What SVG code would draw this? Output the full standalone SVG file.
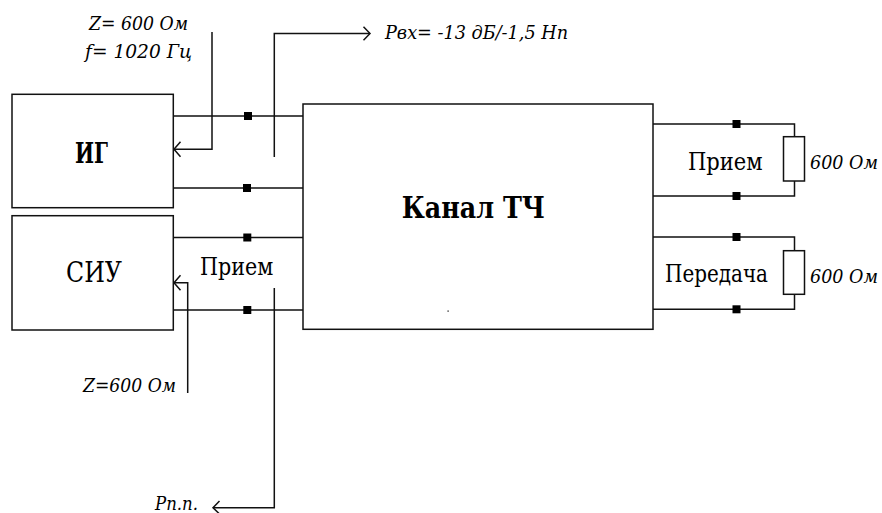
<svg xmlns="http://www.w3.org/2000/svg" width="882" height="513" viewBox="0 0 882 513">
<style>
.box{fill:#fff;stroke:#111;stroke-width:1.5}
.ln{fill:none;stroke:#111;stroke-width:1.5}
.sq{fill:#000}
</style>
<rect width="882" height="513" fill="#fff"/>
<g id="connectors">
<path class="ln" d="M173.3 116H303 M173.3 188H303 M173.3 237.5H303 M173.3 310H303"/>
<path class="ln" d="M653 124H794.5V136.7 M794.5 181V196H653 M653 237H794.5V250.7 M794.5 294.3V309.3H653"/>
<path class="ln" d="M212 32V149.3H174"/>
<path class="ln" d="M180.5 141.8L174 149.3L180.5 156.8"/>
<path class="ln" d="M274.3 157V33.5H370"/>
<path class="ln" d="M363.5 26.8L370 33.5L363.5 40.2"/>
<path class="ln" d="M187.7 393V282.7H174"/>
<path class="ln" d="M180.5 275.2L174 282.7L180.5 290.2"/>
<path class="ln" d="M274.3 288V507.7H213"/>
<path class="ln" d="M219.5 501L213 507.7L219.5 514"/>
<rect class="sq" x="244" y="112" width="8" height="8"/>
<rect class="sq" x="243" y="184" width="8" height="8"/>
<rect class="sq" x="243.3" y="233.5" width="8" height="8"/>
<rect class="sq" x="243.3" y="306" width="8" height="8"/>
<rect class="sq" x="732.5" y="120" width="8" height="8"/>
<rect class="sq" x="732.5" y="192" width="8" height="8"/>
<rect class="sq" x="732.5" y="233" width="8" height="8"/>
<rect class="sq" x="732.5" y="305.3" width="8" height="8"/>
</g>
<g id="node-ig">
<rect class="box" x="12" y="94.3" width="161.3" height="113.4"/>
<text x="75" y="163.3" font-family="DejaVu Serif, serif" font-weight="bold" font-size="27" textLength="33" lengthAdjust="spacingAndGlyphs">ИГ</text>
</g>
<g id="node-siu">
<rect class="box" x="12" y="215.7" width="161.3" height="114.3"/>
<text x="66" y="281.5" font-family="DejaVu Serif, serif" font-size="27" textLength="56" lengthAdjust="spacingAndGlyphs">СИУ</text>
</g>
<g id="node-channel">
<rect class="box" x="303" y="104" width="350" height="225.3"/>
<text x="401.7" y="218.3" font-family="DejaVu Serif, serif" font-weight="bold" font-size="29" textLength="143.3" lengthAdjust="spacingAndGlyphs">Канал ТЧ</text>
<rect x="447.5" y="310.5" width="1.2" height="1.2" fill="#000"/>
</g>
<g id="node-load-rx">
<rect class="box" x="783.5" y="136.7" width="21" height="44.3"/>
<text x="810" y="169" font-family="DejaVu Serif, serif" font-style="italic" font-size="18" textLength="68" lengthAdjust="spacingAndGlyphs">600 Ом</text>
</g>
<g id="node-load-tx">
<rect class="box" x="783.5" y="250.7" width="21" height="43.6"/>
<text x="810" y="282.5" font-family="DejaVu Serif, serif" font-style="italic" font-size="18" textLength="68" lengthAdjust="spacingAndGlyphs">600 Ом</text>
</g>
<g id="labels" font-family="DejaVu Serif, serif">
<text x="89" y="30" font-style="italic" font-size="19" textLength="99" lengthAdjust="spacingAndGlyphs">Z= 600 Ом</text>
<text x="85" y="58" font-style="italic" font-size="19" textLength="107" lengthAdjust="spacingAndGlyphs">f= 1020 Гц</text>
<text x="385" y="39" font-style="italic" font-size="18" textLength="183" lengthAdjust="spacingAndGlyphs">Рвх= -13 дБ/-1,5 Нп</text>
<text x="83" y="391.5" font-style="italic" font-size="18" textLength="93" lengthAdjust="spacingAndGlyphs">Z=600 Ом</text>
<text x="155" y="510" font-style="italic" font-size="18" textLength="43" lengthAdjust="spacingAndGlyphs">Рп.п.</text>
<text x="200" y="275" font-size="24" textLength="73.3" lengthAdjust="spacingAndGlyphs">Прием</text>
<text x="688" y="169.5" font-size="24" textLength="74.7" lengthAdjust="spacingAndGlyphs">Прием</text>
<text x="665" y="282" font-size="24" textLength="103" lengthAdjust="spacingAndGlyphs">Передача</text>
</g>
</svg>
